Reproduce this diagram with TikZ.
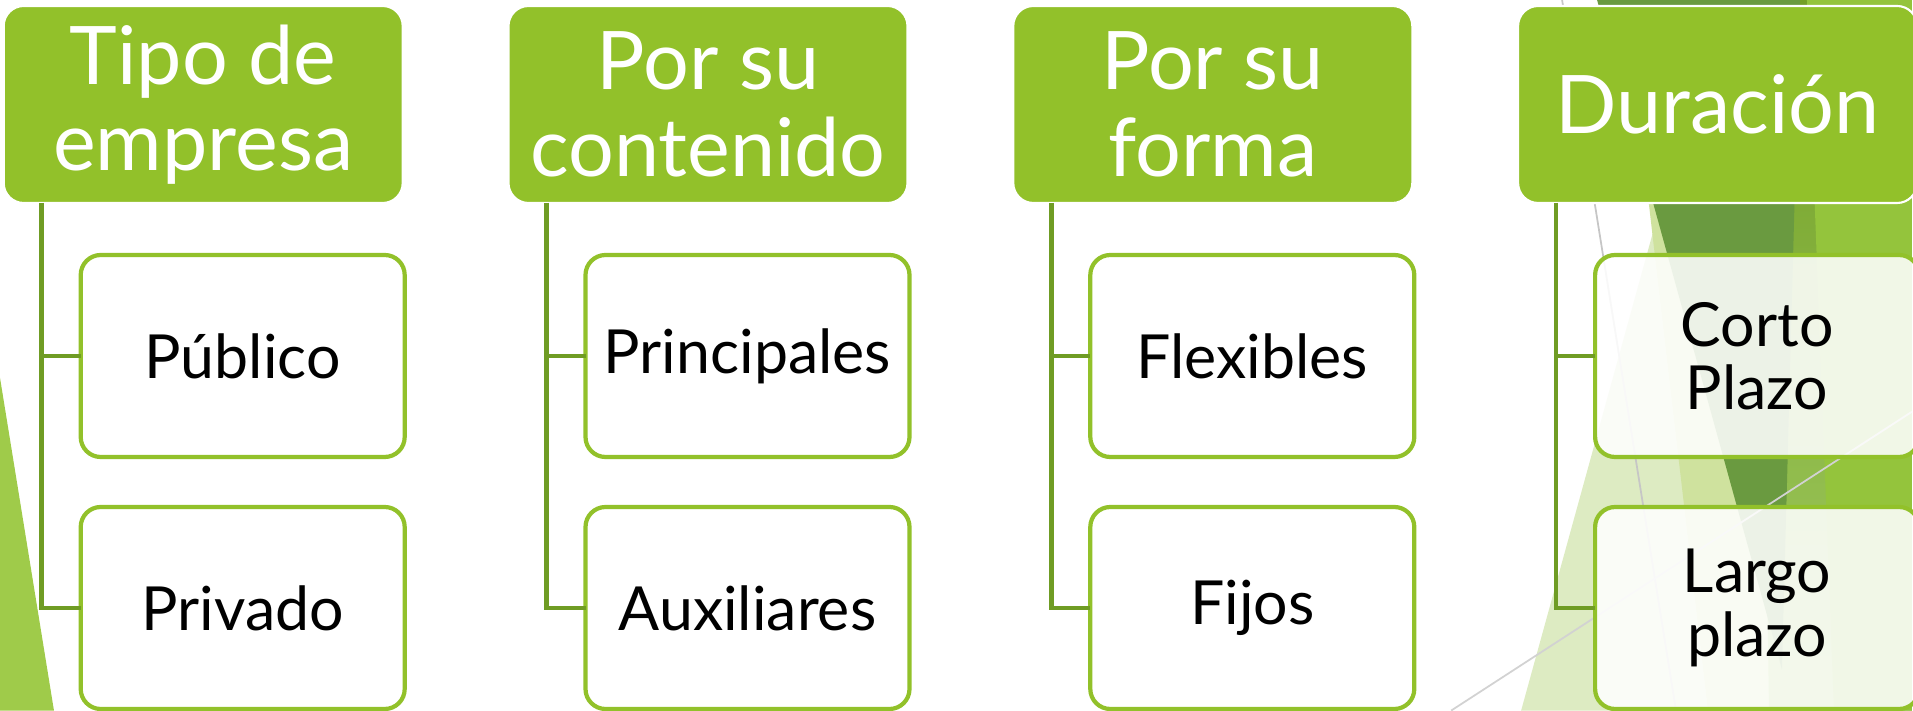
\documentclass[tikz,border=0pt]{standalone}
\usepackage{fontspec}
\setmainfont{Lato}
\usetikzlibrary{positioning}
\definecolor{verde}{HTML}{92C12A}
\definecolor{verdeosc}{HTML}{6F9C24}
\definecolor{verdefondo}{HTML}{9FCB4A}
\definecolor{palido}{HTML}{DDEBC2}
\definecolor{medio}{HTML}{CFE29E}
\definecolor{claro}{HTML}{A0CA60}
\definecolor{brillante}{HTML}{94C43C}
\definecolor{oscuro}{HTML}{6A9A40}
\tikzset{cabeza/.style={rectangle, rounded corners=0.2cm, fill=verde, draw=white, line width=0.6pt,
    text=white, minimum width=3.99cm, minimum height=1.97cm, inner sep=0pt, outer sep=0pt,
    align=center, font=\fontsize{23}{24.6}\selectfont}}
\tikzset{hijo/.style={rectangle, rounded corners=0.2cm, fill=white, fill opacity=0.88, text opacity=1,
    draw=verde, draw opacity=1, line width=1.2pt, minimum width=3.24cm, minimum height=2.02cm,
    inner sep=0pt, outer sep=0pt, align=center, font=\fontsize{17.3}{18}\selectfont}}
\tikzset{conector/.style={draw=verdeosc, line width=1.3pt}}

\begin{document}
\begin{tikzpicture}
      \useasboundingbox (0,0) rectangle (19.13,-7.11);
      \clip (0,0) rectangle (19.13,-7.11);
      % fondo
      \begin{scope}[x=0.01cm,y=-0.01cm]
        \fill[verdefondo] (0,378) -- (54,711) -- (0,711) -- cycle;
        \fill[palido] (1522,711) -- (1718,0) -- (1913,0) -- (1913,711) -- cycle;
        \fill[medio] (1626,0) -- (1800,0) -- (1800,711) -- (1709,711) -- cycle;
        \shade[top color=verdeosc!90!brillante, bottom color=claro] (1760,0) -- (1913,0) -- (1913,711) -- (1770,711) -- cycle;
        \fill[brillante] (1808,0) -- (1913,0) -- (1913,711) -- (1835,711) -- cycle;
        \fill[oscuro] (1598,0) -- (1801,0) -- (1783,670) -- cycle;
        \draw[gray!45, line width=0.5pt] (1563,0) -- (1677,711);
        \draw[gray!35, line width=0.5pt] (1452,711) -- (1913,412);
      \end{scope}
      % titulos
      \node[cabeza] (tipo) at (2.032,-1.045) {Tipo de\\empresa};
      \node[cabeza, right=1.058cm of tipo] (contenido) {Por su\\contenido};
      \node[cabeza, right=1.058cm of contenido] (forma) {Por su\\forma};
      \node[cabeza, right=1.058cm of forma] (duracion) {Duración};
      % cajas
      \node[hijo, below right=0.52cm and 0.77cm of tipo.south west] (publico) {Público};
      \node[hijo, below=0.5cm of publico] (privado) {Privado};
      \node[hijo, below right=0.52cm and 0.77cm of contenido.south west] (principales) {Principales};
      \node[hijo, below=0.5cm of principales] (auxiliares) {Auxiliares};
      \node[hijo, below right=0.52cm and 0.77cm of forma.south west] (flexibles) {Flexibles};
      \node[hijo, below=0.5cm of flexibles] (fijos) {Fijos};
      \node[hijo, below right=0.52cm and 0.77cm of duracion.south west] (corto) {Corto\\Plazo};
      \node[hijo, below=0.5cm of corto] (largo) {Largo\\plazo};
      % lineas
      \draw[conector] ([xshift=0.38cm]tipo.south west) |- (publico.west);
      \draw[conector] ([xshift=0.38cm]tipo.south west) |- (privado.west);
      \draw[conector] ([xshift=0.38cm]contenido.south west) |- (principales.west);
      \draw[conector] ([xshift=0.38cm]contenido.south west) |- (auxiliares.west);
      \draw[conector] ([xshift=0.38cm]forma.south west) |- (flexibles.west);
      \draw[conector] ([xshift=0.38cm]forma.south west) |- (fijos.west);
      \draw[conector] ([xshift=0.38cm]duracion.south west) |- (corto.west);
      \draw[conector] ([xshift=0.38cm]duracion.south west) |- (largo.west);
\end{tikzpicture}
\end{document}
